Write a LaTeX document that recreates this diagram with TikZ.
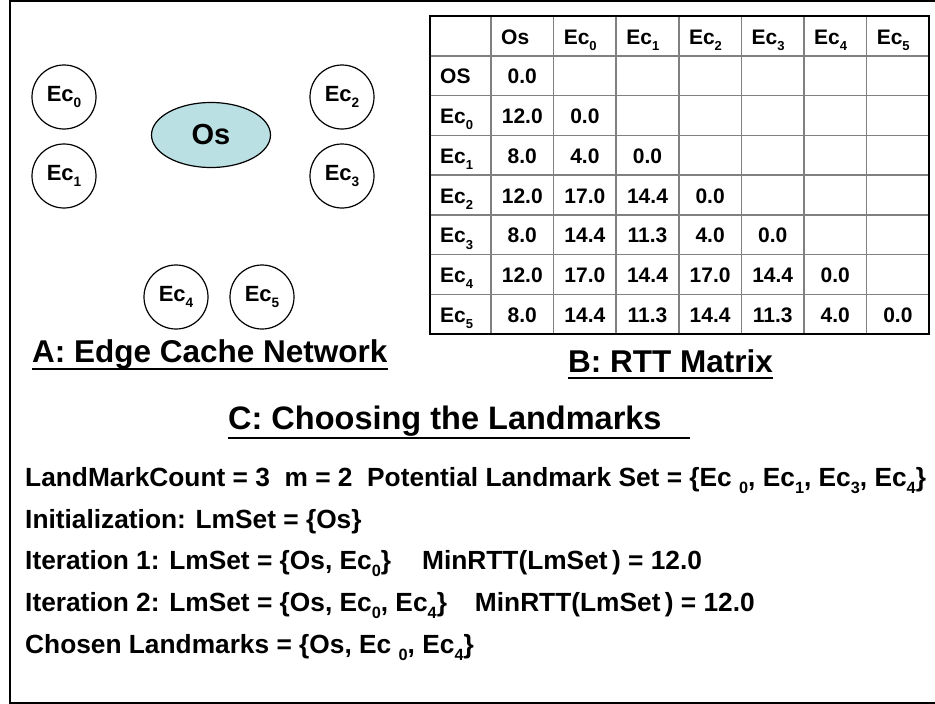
\documentclass[tikz,border=0pt]{standalone}
\usepackage{fontspec}
\setmainfont{Liberation Sans}
\usepackage{xcolor}
\usepackage{tikz}
\usetikzlibrary{positioning,shapes.geometric}
\definecolor{osfill}{RGB}{187,224,227}
\newcommand{\sub}[1]{\raisebox{-0.3em}{\scalebox{0.62}{#1}}}

\begin{document}
\begin{tikzpicture}[x=1pt, y=-1pt,
    cache/.style={draw, circle, line width=1.2pt, minimum size=64pt, inner sep=0, font=\fontsize{22}{26}\selectfont\bfseries},
    origin/.style={draw, ellipse, fill=osfill, line width=1.2pt, minimum width=119pt, minimum height=65pt, inner sep=0, font=\fontsize{29}{34}\selectfont\bfseries},
    heading/.style={anchor=base west, inner sep=0, font=\fontsize{31.5}{36}\selectfont\bfseries},
    ulin/.style={line width=2.5pt},
    cell/.style={anchor=base, inner sep=0, font=\fontsize{21}{25}\selectfont\bfseries},
    headcell/.style={cell, anchor=base west},
    gridline/.style={draw=gray, line width=1.5pt},
    body/.style={anchor=base west, inner sep=0, font=\fontsize{26.3}{31}\selectfont\bfseries}]
    \useasboundingbox (0,0) rectangle (935,704);
    % Frame
    \draw[line width=2pt] (935,1) -- (10,1) -- (10,703) -- (935,703);

    % Edge cache network
    \node[origin] (os) at (211,135) {Os};
    \node[cache] (ec0) at (64,97) {Ec\sub{0}};
    \node[cache] (ec1) at (64,176) {Ec\sub{1}};
    \node[cache] (ec2) at (342,97) {Ec\sub{2}};
    \node[cache] (ec3) at (342,176) {Ec\sub{3}};
    \node[cache] (ec4) at (176,297) {Ec\sub{4}};
    \node[cache] (ec5) at (262,297) {Ec\sub{5}};
    \node[heading] (capa) at (32,362) {A: Edge Cache Network};
    \draw[ulin] ([yshift=-7pt]capa.base west) -- ([yshift=-7pt]capa.base east);

    % RTT matrix
    \foreach \c in {0,...,6}
        \draw[gridline] ({491+\c*62.6},16) -- ({491+\c*62.6},334);
    \foreach \r in {1,...,7}
        \draw[gridline] (430,{16+\r*39.75}) -- (929,{16+\r*39.75});
    \draw[line width=2.5pt] (430,16) rectangle (929,334);
    \node[headcell] (h0) at (501,44) {Os};
    \node[headcell] (r0) at (440,{44+39.75}) {OS};
    \foreach \c [count=\k] in {0,...,5}{
        \node[headcell] (h\k) at ({501+\k*62.6},44) {Ec\sub{\c}};
        \node[headcell] (r\k) at (440,{44+(\k+1)*39.75}) {Ec\sub{\c}};
    }
    \foreach \vals [count=\r] in {{0.0},{12.0,0.0},{8.0,4.0,0.0},{12.0,17.0,14.4,0.0},
        {8.0,14.4,11.3,4.0,0.0},{12.0,17.0,14.4,17.0,14.4,0.0},{8.0,14.4,11.3,14.4,11.3,4.0,0.0}}
        \foreach \v [count=\c] in \vals
            \node[cell] (v\r-\c) at ({491+(\c-0.5)*62.6},{44+\r*39.75}) {\v};
    \node[heading] (capb) at (568,372) {B: RTT Matrix};
    \draw[ulin] ([yshift=-6pt]capb.base west) -- ([yshift=-6pt]capb.base east);

    % Choosing the landmarks
    \node[heading, font=\fontsize{32.5}{38}\selectfont\bfseries] (capc) at (228,429) {C: Choosing the Landmarks};
    \draw[ulin] ([yshift=-9pt]capc.base west) -- ++(462,0);
    \node[body] (l1) at (25,486) {LandMarkCount = 3\ \ m = 2\ \ Potential Landmark Set = \{Ec \sub{0}, Ec\sub{1}, Ec\sub{3}, Ec\sub{4}\}};
    \node[body] (l2) at (25,528) {Initialization: LmSet = \{Os\}};
    \node[body] (l3) at (25,569) {Iteration 1: LmSet = \{Os, Ec\sub{0}\}\hspace{31pt}MinRTT(LmSet\,) = 12.0};
    \node[body] (l4) at (25,611) {Iteration 2: LmSet = \{Os, Ec\sub{0}, Ec\sub{4}\}\hspace{28pt}MinRTT(LmSet\,) = 12.0};
    \node[body] (l5) at (25,653) {Chosen Landmarks = \{Os, Ec \sub{0}, Ec\sub{4}\}};
\end{tikzpicture}
\end{document}
